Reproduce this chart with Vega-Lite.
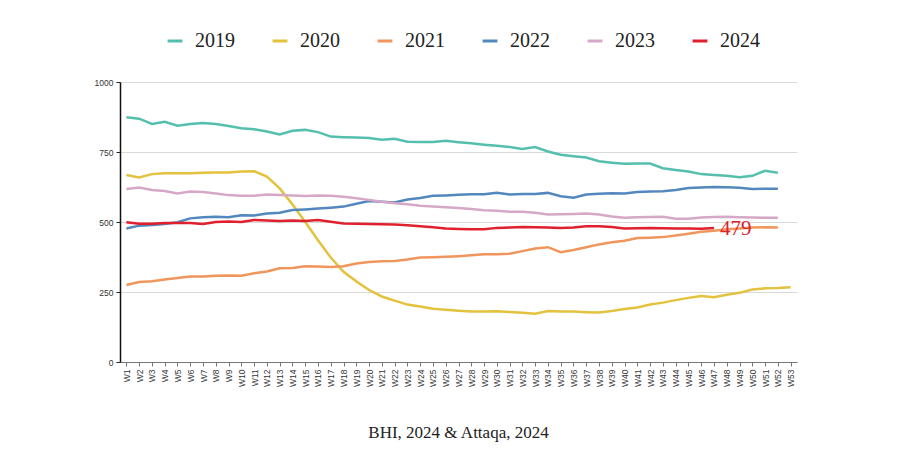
{
"$schema": "https://vega.github.io/schema/vega-lite/v6.json",
"width": 677, "height": 280,
"autosize": "none",
"padding": {"left": 120, "top": 82, "right": 103, "bottom": 88},
"background": "white",
"config": {"view": {"stroke": null}},
"title": {"text": "BHI, 2024 & Attaqa, 2024", "orient": "bottom", "anchor": "middle", "font": "Liberation Serif", "fontSize": 17, "fontWeight": "normal", "color": "#222222", "offset": 39},
"datasets": {
"series": [
{"week":"W1","year":"2019","count":874},{"week":"W2","year":"2019","count":869},{"week":"W3","year":"2019","count":850},{"week":"W4","year":"2019","count":858},{"week":"W5","year":"2019","count":844},{"week":"W6","year":"2019","count":850},{"week":"W7","year":"2019","count":854},{"week":"W8","year":"2019","count":850},{"week":"W9","year":"2019","count":843},{"week":"W10","year":"2019","count":835},
{"week":"W11","year":"2019","count":831},{"week":"W12","year":"2019","count":823},{"week":"W13","year":"2019","count":813},{"week":"W14","year":"2019","count":826},{"week":"W15","year":"2019","count":829},{"week":"W16","year":"2019","count":821},{"week":"W17","year":"2019","count":805},{"week":"W18","year":"2019","count":803},{"week":"W19","year":"2019","count":802},{"week":"W20","year":"2019","count":800},
{"week":"W21","year":"2019","count":794},{"week":"W22","year":"2019","count":797},{"week":"W23","year":"2019","count":787},{"week":"W24","year":"2019","count":786},{"week":"W25","year":"2019","count":786},{"week":"W26","year":"2019","count":790},{"week":"W27","year":"2019","count":785},{"week":"W28","year":"2019","count":781},{"week":"W29","year":"2019","count":776},{"week":"W30","year":"2019","count":772},
{"week":"W31","year":"2019","count":768},{"week":"W32","year":"2019","count":761},{"week":"W33","year":"2019","count":768},{"week":"W34","year":"2019","count":752},{"week":"W35","year":"2019","count":740},{"week":"W36","year":"2019","count":735},{"week":"W37","year":"2019","count":730},{"week":"W38","year":"2019","count":717},{"week":"W39","year":"2019","count":712},{"week":"W40","year":"2019","count":708},
{"week":"W41","year":"2019","count":709},{"week":"W42","year":"2019","count":709},{"week":"W43","year":"2019","count":692},{"week":"W44","year":"2019","count":686},{"week":"W45","year":"2019","count":680},{"week":"W46","year":"2019","count":671},{"week":"W47","year":"2019","count":668},{"week":"W48","year":"2019","count":665},{"week":"W49","year":"2019","count":660},{"week":"W50","year":"2019","count":665},
{"week":"W51","year":"2019","count":683},{"week":"W52","year":"2019","count":676},

{"week":"W1","year":"2020","count":668},{"week":"W2","year":"2020","count":659},{"week":"W3","year":"2020","count":671},{"week":"W4","year":"2020","count":674},{"week":"W5","year":"2020","count":674},{"week":"W6","year":"2020","count":674},{"week":"W7","year":"2020","count":676},{"week":"W8","year":"2020","count":677},{"week":"W9","year":"2020","count":677},{"week":"W10","year":"2020","count":680},
{"week":"W11","year":"2020","count":681},{"week":"W12","year":"2020","count":662},{"week":"W13","year":"2020","count":620},{"week":"W14","year":"2020","count":563},{"week":"W15","year":"2020","count":500},{"week":"W16","year":"2020","count":435},{"week":"W17","year":"2020","count":373},{"week":"W18","year":"2020","count":322},{"week":"W19","year":"2020","count":288},{"week":"W20","year":"2020","count":257},
{"week":"W21","year":"2020","count":234},{"week":"W22","year":"2020","count":219},{"week":"W23","year":"2020","count":205},{"week":"W24","year":"2020","count":198},{"week":"W25","year":"2020","count":190},{"week":"W26","year":"2020","count":187},{"week":"W27","year":"2020","count":183},{"week":"W28","year":"2020","count":180},{"week":"W29","year":"2020","count":180},{"week":"W30","year":"2020","count":181},
{"week":"W31","year":"2020","count":179},{"week":"W32","year":"2020","count":176},{"week":"W33","year":"2020","count":172},{"week":"W34","year":"2020","count":182},{"week":"W35","year":"2020","count":180},{"week":"W36","year":"2020","count":180},{"week":"W37","year":"2020","count":178},{"week":"W38","year":"2020","count":177},{"week":"W39","year":"2020","count":182},{"week":"W40","year":"2020","count":189},
{"week":"W41","year":"2020","count":195},{"week":"W42","year":"2020","count":205},{"week":"W43","year":"2020","count":212},{"week":"W44","year":"2020","count":221},{"week":"W45","year":"2020","count":229},{"week":"W46","year":"2020","count":236},{"week":"W47","year":"2020","count":231},{"week":"W48","year":"2020","count":240},{"week":"W49","year":"2020","count":247},{"week":"W50","year":"2020","count":259},
{"week":"W51","year":"2020","count":263},{"week":"W52","year":"2020","count":264},{"week":"W53","year":"2020","count":267},

{"week":"W1","year":"2021","count":275},{"week":"W2","year":"2021","count":286},{"week":"W3","year":"2021","count":288},{"week":"W4","year":"2021","count":295},{"week":"W5","year":"2021","count":300},{"week":"W6","year":"2021","count":305},{"week":"W7","year":"2021","count":305},{"week":"W8","year":"2021","count":308},{"week":"W9","year":"2021","count":309},{"week":"W10","year":"2021","count":308},
{"week":"W11","year":"2021","count":317},{"week":"W12","year":"2021","count":323},{"week":"W13","year":"2021","count":335},{"week":"W14","year":"2021","count":336},{"week":"W15","year":"2021","count":342},{"week":"W16","year":"2021","count":341},{"week":"W17","year":"2021","count":339},{"week":"W18","year":"2021","count":342},{"week":"W19","year":"2021","count":352},{"week":"W20","year":"2021","count":357},
{"week":"W21","year":"2021","count":360},{"week":"W22","year":"2021","count":361},{"week":"W23","year":"2021","count":366},{"week":"W24","year":"2021","count":373},{"week":"W25","year":"2021","count":374},{"week":"W26","year":"2021","count":376},{"week":"W27","year":"2021","count":378},{"week":"W28","year":"2021","count":381},{"week":"W29","year":"2021","count":385},{"week":"W30","year":"2021","count":385},
{"week":"W31","year":"2021","count":387},{"week":"W32","year":"2021","count":396},{"week":"W33","year":"2021","count":405},{"week":"W34","year":"2021","count":410},{"week":"W35","year":"2021","count":392},{"week":"W36","year":"2021","count":400},{"week":"W37","year":"2021","count":410},{"week":"W38","year":"2021","count":420},{"week":"W39","year":"2021","count":428},{"week":"W40","year":"2021","count":433},
{"week":"W41","year":"2021","count":443},{"week":"W42","year":"2021","count":444},{"week":"W43","year":"2021","count":446},{"week":"W44","year":"2021","count":452},{"week":"W45","year":"2021","count":458},{"week":"W46","year":"2021","count":465},{"week":"W47","year":"2021","count":469},{"week":"W48","year":"2021","count":474},{"week":"W49","year":"2021","count":477},{"week":"W50","year":"2021","count":480},
{"week":"W51","year":"2021","count":481},{"week":"W52","year":"2021","count":480},

{"week":"W1","year":"2022","count":477},{"week":"W2","year":"2022","count":487},{"week":"W3","year":"2022","count":489},{"week":"W4","year":"2022","count":493},{"week":"W5","year":"2022","count":499},{"week":"W6","year":"2022","count":513},{"week":"W7","year":"2022","count":517},{"week":"W8","year":"2022","count":519},{"week":"W9","year":"2022","count":517},{"week":"W10","year":"2022","count":524},
{"week":"W11","year":"2022","count":523},{"week":"W12","year":"2022","count":530},{"week":"W13","year":"2022","count":533},{"week":"W14","year":"2022","count":543},{"week":"W15","year":"2022","count":545},{"week":"W16","year":"2022","count":548},{"week":"W17","year":"2022","count":551},{"week":"W18","year":"2022","count":555},{"week":"W19","year":"2022","count":565},{"week":"W20","year":"2022","count":575},
{"week":"W21","year":"2022","count":572},{"week":"W22","year":"2022","count":570},{"week":"W23","year":"2022","count":580},{"week":"W24","year":"2022","count":586},{"week":"W25","year":"2022","count":594},{"week":"W26","year":"2022","count":595},{"week":"W27","year":"2022","count":597},{"week":"W28","year":"2022","count":599},{"week":"W29","year":"2022","count":599},{"week":"W30","year":"2022","count":604},
{"week":"W31","year":"2022","count":598},{"week":"W32","year":"2022","count":600},{"week":"W33","year":"2022","count":600},{"week":"W34","year":"2022","count":604},{"week":"W35","year":"2022","count":592},{"week":"W36","year":"2022","count":587},{"week":"W37","year":"2022","count":598},{"week":"W38","year":"2022","count":601},{"week":"W39","year":"2022","count":603},{"week":"W40","year":"2022","count":602},
{"week":"W41","year":"2022","count":607},{"week":"W42","year":"2022","count":609},{"week":"W43","year":"2022","count":610},{"week":"W44","year":"2022","count":614},{"week":"W45","year":"2022","count":621},{"week":"W46","year":"2022","count":623},{"week":"W47","year":"2022","count":625},{"week":"W48","year":"2022","count":624},{"week":"W49","year":"2022","count":622},{"week":"W50","year":"2022","count":618},
{"week":"W51","year":"2022","count":619},{"week":"W52","year":"2022","count":619},

{"week":"W1","year":"2023","count":618},{"week":"W2","year":"2023","count":623},{"week":"W3","year":"2023","count":614},{"week":"W4","year":"2023","count":611},{"week":"W5","year":"2023","count":602},{"week":"W6","year":"2023","count":609},{"week":"W7","year":"2023","count":607},{"week":"W8","year":"2023","count":602},{"week":"W9","year":"2023","count":596},{"week":"W10","year":"2023","count":594},
{"week":"W11","year":"2023","count":594},{"week":"W12","year":"2023","count":598},{"week":"W13","year":"2023","count":596},{"week":"W14","year":"2023","count":595},{"week":"W15","year":"2023","count":593},{"week":"W16","year":"2023","count":595},{"week":"W17","year":"2023","count":594},{"week":"W18","year":"2023","count":590},{"week":"W19","year":"2023","count":585},{"week":"W20","year":"2023","count":579},
{"week":"W21","year":"2023","count":572},{"week":"W22","year":"2023","count":567},{"week":"W23","year":"2023","count":563},{"week":"W24","year":"2023","count":558},{"week":"W25","year":"2023","count":555},{"week":"W26","year":"2023","count":553},{"week":"W27","year":"2023","count":550},{"week":"W28","year":"2023","count":546},{"week":"W29","year":"2023","count":542},{"week":"W30","year":"2023","count":540},
{"week":"W31","year":"2023","count":537},{"week":"W32","year":"2023","count":537},{"week":"W33","year":"2023","count":533},{"week":"W34","year":"2023","count":527},{"week":"W35","year":"2023","count":528},{"week":"W36","year":"2023","count":529},{"week":"W37","year":"2023","count":530},{"week":"W38","year":"2023","count":527},{"week":"W39","year":"2023","count":520},{"week":"W40","year":"2023","count":515},
{"week":"W41","year":"2023","count":517},{"week":"W42","year":"2023","count":518},{"week":"W43","year":"2023","count":519},{"week":"W44","year":"2023","count":512},{"week":"W45","year":"2023","count":512},{"week":"W46","year":"2023","count":516},{"week":"W47","year":"2023","count":518},{"week":"W48","year":"2023","count":519},{"week":"W49","year":"2023","count":517},{"week":"W50","year":"2023","count":516},
{"week":"W51","year":"2023","count":515},{"week":"W52","year":"2023","count":515},

{"week":"W1","year":"2024","count":499},{"week":"W2","year":"2024","count":494},{"week":"W3","year":"2024","count":494},{"week":"W4","year":"2024","count":496},{"week":"W5","year":"2024","count":496},{"week":"W6","year":"2024","count":496},{"week":"W7","year":"2024","count":493},{"week":"W8","year":"2024","count":500},{"week":"W9","year":"2024","count":502},{"week":"W10","year":"2024","count":500},
{"week":"W11","year":"2024","count":507},{"week":"W12","year":"2024","count":505},{"week":"W13","year":"2024","count":504},{"week":"W14","year":"2024","count":505},{"week":"W15","year":"2024","count":504},{"week":"W16","year":"2024","count":507},{"week":"W17","year":"2024","count":501},{"week":"W18","year":"2024","count":495},{"week":"W19","year":"2024","count":494},{"week":"W20","year":"2024","count":493},
{"week":"W21","year":"2024","count":492},{"week":"W22","year":"2024","count":491},{"week":"W23","year":"2024","count":488},{"week":"W24","year":"2024","count":485},{"week":"W25","year":"2024","count":481},{"week":"W26","year":"2024","count":477},{"week":"W27","year":"2024","count":475},{"week":"W28","year":"2024","count":474},{"week":"W29","year":"2024","count":474},{"week":"W30","year":"2024","count":479},
{"week":"W31","year":"2024","count":480},{"week":"W32","year":"2024","count":482},{"week":"W33","year":"2024","count":481},{"week":"W34","year":"2024","count":480},{"week":"W35","year":"2024","count":479},{"week":"W36","year":"2024","count":480},{"week":"W37","year":"2024","count":485},{"week":"W38","year":"2024","count":485},{"week":"W39","year":"2024","count":482},{"week":"W40","year":"2024","count":477},
{"week":"W41","year":"2024","count":478},{"week":"W42","year":"2024","count":479},{"week":"W43","year":"2024","count":478},{"week":"W44","year":"2024","count":477},{"week":"W45","year":"2024","count":477},{"week":"W46","year":"2024","count":476},{"week":"W47","year":"2024","count":479}
]
},
"data": {"name": "series"},
"layer": [
{
"mark": {"type": "line", "strokeWidth": 2.5},
"encoding": {
"x": {"field": "week", "type": "ordinal",
"scale": {"domain": ["W1","W2","W3","W4","W5","W6","W7","W8","W9","W10","W11","W12","W13","W14","W15","W16","W17","W18","W19","W20","W21","W22","W23","W24","W25","W26","W27","W28","W29","W30","W31","W32","W33","W34","W35","W36","W37","W38","W39","W40","W41","W42","W43","W44","W45","W46","W47","W48","W49","W50","W51","W52","W53"], "padding": 0.5},
"axis": {"title": null, "labelAngle": -90, "labelFont": "Liberation Sans", "labelFontSize": 8.5, "labelColor": "#333333", "labelPadding": 3, "tickSize": 4, "tickColor": "#777777", "domainColor": "#777777", "grid": false}},
"y": {"field": "count", "type": "quantitative",
"scale": {"domain": [0, 1000]},
"axis": {"title": null, "values": [0, 250, 500, 750, 1000], "format": "d", "labelFont": "Liberation Sans", "labelFontSize": 8.5, "labelColor": "#333333", "tickSize": 4, "tickColor": "#222222", "domainColor": "#111111", "domainWidth": 1.5, "gridColor": "#d9d9d9", "labelPadding": 3}},
"color": {"field": "year", "type": "nominal",
"scale": {"domain": ["2019","2020","2021","2022","2023","2024"], "range": ["#55bfae","#e3c23e","#f0965c","#5288bd","#d6a8c7","#e0202c"]},
"legend": {"title": null, "orient": "none", "legendX": 45, "legendY": -51, "direction": "horizontal", "labelFont": "Liberation Serif", "labelFontSize": 20, "labelColor": "#222222", "symbolType": "stroke", "symbolStrokeWidth": 3, "symbolSize": 220, "columnPadding": 31, "labelOffset": 10, "padding": 0}}
}
},
{
"transform": [{"filter": "datum.year === '2024' && datum.week === 'W47'"}],
"mark": {"type": "text", "align": "left", "baseline": "middle", "dx": 6, "dy": 1, "font": "Liberation Serif", "fontSize": 21, "color": "#d9232b"},
"encoding": {
"x": {"field": "week", "type": "ordinal"},
"y": {"field": "count", "type": "quantitative"},
"text": {"field": "count", "type": "quantitative"}
}
}
]
}
